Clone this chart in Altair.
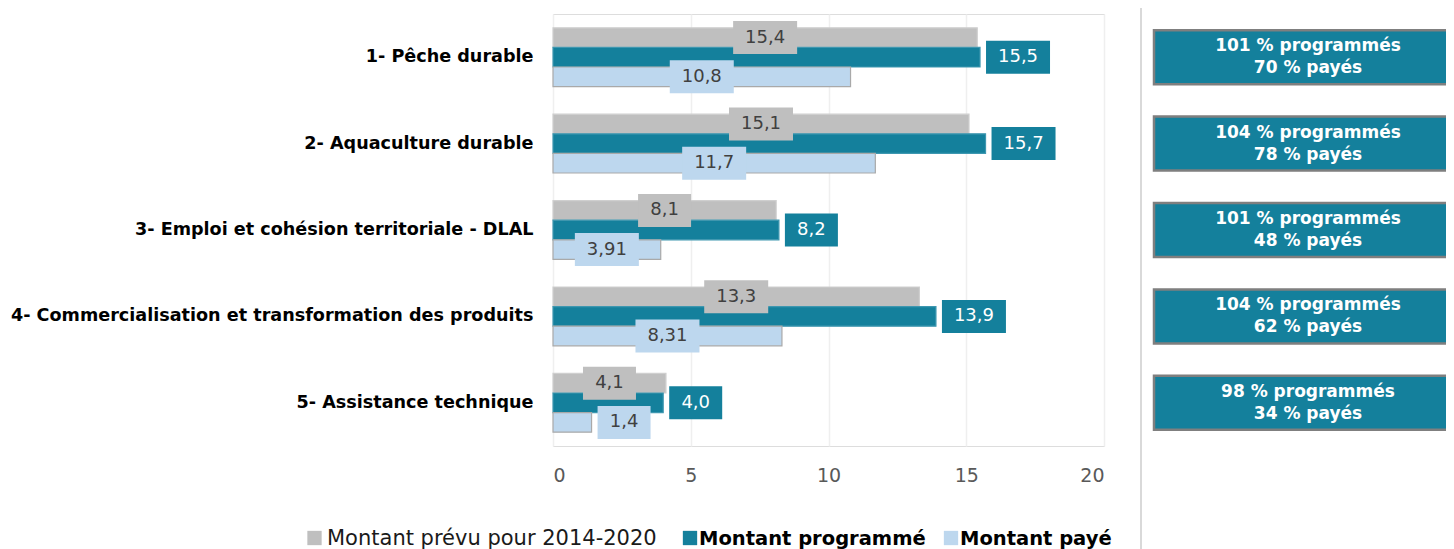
import altair as alt
import pandas as pd

# ---------------- data ----------------
categories = [
    "1- Pêche durable",
    "2- Aquaculture durable",
    "3- Emploi et cohésion territoriale - DLAL",
    "4- Commercialisation et transformation des produits",
    "5- Assistance technique",
]
series = ["Montant prévu pour 2014-2020", "Montant programmé", "Montant payé"]
prevu = [15.4, 15.1, 8.1, 13.3, 4.1]
programme = [15.5, 15.7, 8.2, 13.9, 4.0]
paye = [10.8, 11.7, 3.91, 8.31, 1.4]
pct_programme = [101, 104, 101, 104, 98]
pct_paye = [70, 78, 48, 62, 34]
x_ticks = [0, 5, 10, 15, 20]

# ---------------- style ----------------
FONT = "DejaVu Sans"
colors = ["#BFBFBF", "#14809C", "#BDD7EE"]
strokes = ["#CFCFCF", "#3E97B0", "#A9A9A9"]
PLOT_W, PLOT_H = 551, 432
PX_PER_UNIT = PLOT_W / 20.0

rows = []
for i, cat in enumerate(categories):
    for j, (s, vals) in enumerate(zip(series, [prevu, programme, paye])):
        v = vals[i]
        lab = (f"{v:.1f}" if j < 2 else f"{v:g}").replace(".", ",")
        nchar = len(lab)
        boxw = 53 if nchar <= 3 else 64
        outside = (j == 1) or (v * PX_PER_UNIT < boxw + 4)
        rows.append(dict(cat=cat, series=s, value=v, half=v / 2.0,
                         label=lab, nchar=nchar, outside=outside))
df = pd.DataFrame(rows)

right_df = pd.DataFrame({
    "cat": categories,
    "txt": [f"{a} % programmés\n{b} % payés" for a, b in zip(pct_programme, pct_paye)],
})

Y = alt.Y("cat:N", sort=categories, title=None,
          scale=alt.Scale(paddingInner=0.32, paddingOuter=0.16),
          axis=alt.Axis(labelFont=FONT, labelFontSize=17.6, labelFontWeight="bold",
                        labelColor="#000000", labelPadding=20, labelLimit=700,
                        ticks=False, domain=False, grid=False))
YOFF = alt.YOffset("series:N", sort=series,
                   scale=alt.Scale(domain=series, paddingInner=0, paddingOuter=0))
XSCALE = alt.Scale(domain=[0, 20], nice=False, zero=True)
XAXIS = alt.Axis(values=x_ticks, labelFont=FONT, labelFontSize=19, labelColor="#595959",
                 labelPadding=20, ticks=False, domain=False, grid=True,
                 gridColor="#EFEFEF", gridWidth=1.5, title=None)
COLOR = alt.Color("series:N", scale=alt.Scale(domain=series, range=colors), legend=None)

base = alt.Chart(df)

bars = base.mark_bar(strokeWidth=1.2).encode(
    x=alt.X("value:Q", scale=XSCALE, axis=XAXIS, title=None),
    y=Y, yOffset=YOFF, color=COLOR,
    stroke=alt.Stroke("series:N", scale=alt.Scale(domain=series, range=strokes), legend=None),
)


def box_path(w, h, unit):
    hx = w / 2.0 / unit
    hy = h / 2.0 / unit
    return f"M{-hx},{-hy}L{hx},{-hy}L{hx},{hy}L{-hx},{hy}Z"


label_layers_box = []
label_layers_txt = []
for outside in [False, True]:
    for nchar, w in [(3, 53), (4, 64)]:
        sub = base.transform_filter(
            (alt.datum.outside == outside) & (alt.datum.nchar == nchar)
        )
        xfield = "value:Q" if outside else "half:Q"
        off = (6 + w / 2.0) if outside else 0
        label_layers_box.append(
            sub.mark_point(shape=box_path(w, 33.0, 32.0), size=4096, filled=True,
                           opacity=1, strokeWidth=0, xOffset=off).encode(
                x=alt.X(xfield, scale=XSCALE, axis=XAXIS, title=None),
                y=Y, yOffset=YOFF, color=COLOR,
            )
        )
        label_layers_txt.append(
            sub.mark_text(font=FONT, fontSize=18, align="center", baseline="middle",
                          xOffset=off, yOffset=1).encode(
                x=alt.X(xfield, scale=XSCALE, axis=XAXIS, title=None),
                y=Y, yOffset=YOFF, text="label:N",
                color=alt.condition(alt.datum.series == series[1],
                                    alt.value("#FFFFFF"), alt.value("#404040")),
            )
        )

# right-hand summary boxes (320 px wide, 54 px tall rectangles)
right_boxes = alt.Chart(right_df).mark_point(
    shape=box_path(320, 54, 160), size=320 * 320, filled=True, opacity=1,
    fill="#14809C", stroke="#7F7F7F", strokeWidth=2.5, strokeOpacity=1,
).encode(y=Y, x=alt.value(761))
right_txt = alt.Chart(right_df).mark_text(
    font=FONT, fontSize=17, fontWeight="bold", color="#FFFFFF", align="center",
    baseline="middle", lineBreak="\n", lineHeight=22, dy=-11
).encode(y=Y, x=alt.value(755), text="txt:N")

sep_df = pd.DataFrame({"k": [0]})
separator = alt.Chart(sep_df).mark_rule(color="#D9D9D9", strokeWidth=2).encode(
    x=alt.value(588), y=alt.value(-10), y2=alt.value(560)
)

# manual legend (first entry regular, the others bold)
legend_layers = []
leg_pos = [(-238.5, -226, "normal", 21, "#1A1A1A"),
           (137, 146, "bold", 19.5, "#000000"),
           (398, 407, "bold", 19.5, "#000000")]
for s, c, (sx, tx, fw, fs, tc) in zip(series, colors, leg_pos):
    ld = pd.DataFrame({"name": [s]})
    legend_layers.append(
        alt.Chart(ld).mark_square(size=205, filled=True, color=c, opacity=1).encode(
            x=alt.value(sx), y=alt.value(524))
    )
    legend_layers.append(
        alt.Chart(ld).mark_text(font=FONT, fontSize=fs, fontWeight=fw, color=tc,
                                align="left", baseline="alphabetic").encode(
            x=alt.value(tx), y=alt.value(531), text="name:N")
    )

chart = alt.layer(
    bars, *label_layers_box, *label_layers_txt, right_boxes, right_txt, separator,
    *legend_layers
).properties(
    width=PLOT_W, height=PLOT_H,
    autosize=alt.AutoSizeParams(type="none"),
    padding={"left": 545, "top": 6, "right": 342, "bottom": 103},
).configure_view(
    stroke="#D9D9D9", strokeWidth=2
).configure(background="white")

chart.save("out.html", embed_options={"renderer": "svg", "actions": False})
